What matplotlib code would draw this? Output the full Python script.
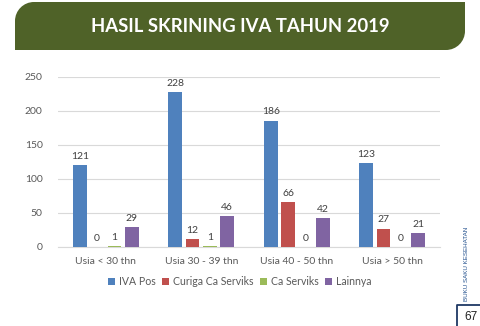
import numpy as np
import matplotlib
matplotlib.use("Agg")
import matplotlib.pyplot as plt
from matplotlib.path import Path
from matplotlib.patches import PathPatch, Patch

plt.rcParams['font.family'] = ['Lato', 'DejaVu Sans']

title = "HASIL SKRINING IVA TAHUN 2019"
categories = ["Usia < 30 thn", "Usia 30 - 39 thn", "Usia 40 - 50 thn", "Usia > 50 thn"]
series_names = ["IVA Pos", "Curiga Ca Serviks", "Ca Serviks", "Lainnya"]
iva_pos = [121, 228, 186, 123]
curiga_ca = [0, 12, 66, 27]
ca_serviks = [1, 1, 0, 0]
lainnya = [29, 46, 42, 21]
yticks = [0, 50, 100, 150, 200, 250]
side_text = "BUKU SAKU KESEHATAN"
page_no = "67"

colors = ["#4f81bd", "#c0504d", "#9bbb59", "#8064a2"]
label_color = "#404040"

W, H = 480, 326
fig = plt.figure(figsize=(W / 100, H / 100), dpi=100)

# Overlay in pixel coordinates for the banner and page furniture
ov = fig.add_axes([0, 0, 1, 1])
ov.set_xlim(0, W)
ov.set_ylim(H, 0)
ov.axis("off")

def banner_path(x0, y0, x1, y1, r):
    k = 0.5523
    verts = [
        (x0, y1), (x0, y0 + r),
        (x0, y0 + r - k * r), (x0 + r - k * r, y0), (x0 + r, y0),
        (x1, y0), (x1, y1 - r),
        (x1, y1 - r + k * r), (x1 - r + k * r, y1), (x1 - r, y1),
        (x0, y1), (x0, y1),
    ]
    codes = [Path.MOVETO, Path.LINETO,
             Path.CURVE4, Path.CURVE4, Path.CURVE4,
             Path.LINETO, Path.LINETO,
             Path.CURVE4, Path.CURVE4, Path.CURVE4,
             Path.LINETO, Path.CLOSEPOLY]
    return Path(verts, codes)

ov.add_patch(PathPatch(banner_path(15, 2, 465, 50, 19), facecolor="#4f6228",
                       edgecolor="none"))
ov.text(240, 26, title, color="white", fontsize=13.3, fontweight="bold",
        ha="center", va="center")

# Side caption and page number
ov.text(466, 264, side_text, rotation=90, color="#1f4e8c", fontsize=4.5,
        ha="center", va="center", family=["Liberation Sans", "DejaVu Sans"])
ov.plot([457, 457, 480], [326, 305, 305], color="#1f3864", lw=1.3)
ov.text(471, 317, page_no, color="#222222", fontsize=8.5, ha="center",
        va="center", family=["Liberation Sans", "DejaVu Sans"])

# Bar chart
ax = fig.add_axes([58 / W, 1 - 247 / H, 382 / W, 170 / H])
data = [iva_pos, curiga_ca, ca_serviks, lainnya]
x = np.arange(len(categories))
step = 0.182
width = 0.145
for i, (vals, c, name) in enumerate(zip(data, colors, series_names)):
    pos = x + (i - 1.5) * step
    ax.bar(pos, vals, width=width, color=c, label=name, zorder=3)
    for xp, v in zip(pos, vals):
        ax.annotate(str(v), (xp, v), xytext=(0, 3), textcoords="offset points",
                    ha="center", va="bottom", fontsize=7.5, color=label_color)

ax.set_xlim(-0.5, len(categories) - 0.5)
ax.set_ylim(0, 250)
ax.set_yticks(yticks)
ax.set_xticks(x)
ax.set_xticklabels(categories)
ax.tick_params(axis="both", length=0, labelsize=7.5, colors="#595959")
ax.tick_params(axis="x", pad=7)
ax.tick_params(axis="y", pad=11)
ax.yaxis.grid(True, color="#d9d9d9", lw=0.8, zorder=0)
for s in ["top", "right", "left"]:
    ax.spines[s].set_visible(False)
ax.spines["bottom"].set_color("#d9d9d9")
ax.spines["bottom"].set_linewidth(0.8)
ax.set_facecolor("none")

handles = [Patch(facecolor=c, edgecolor="none") for c in colors]
leg = ax.legend(handles, series_names, loc="center", ncol=4,
                bbox_to_anchor=(0.476, -0.205), frameon=False,
                fontsize=7.6, handlelength=0.65, handleheight=0.65,
                handletextpad=0.4, columnspacing=0.6, borderaxespad=0)
for t in leg.get_texts():
    t.set_color("#595959")

fig.savefig("out.png", dpi=100, facecolor="white")
